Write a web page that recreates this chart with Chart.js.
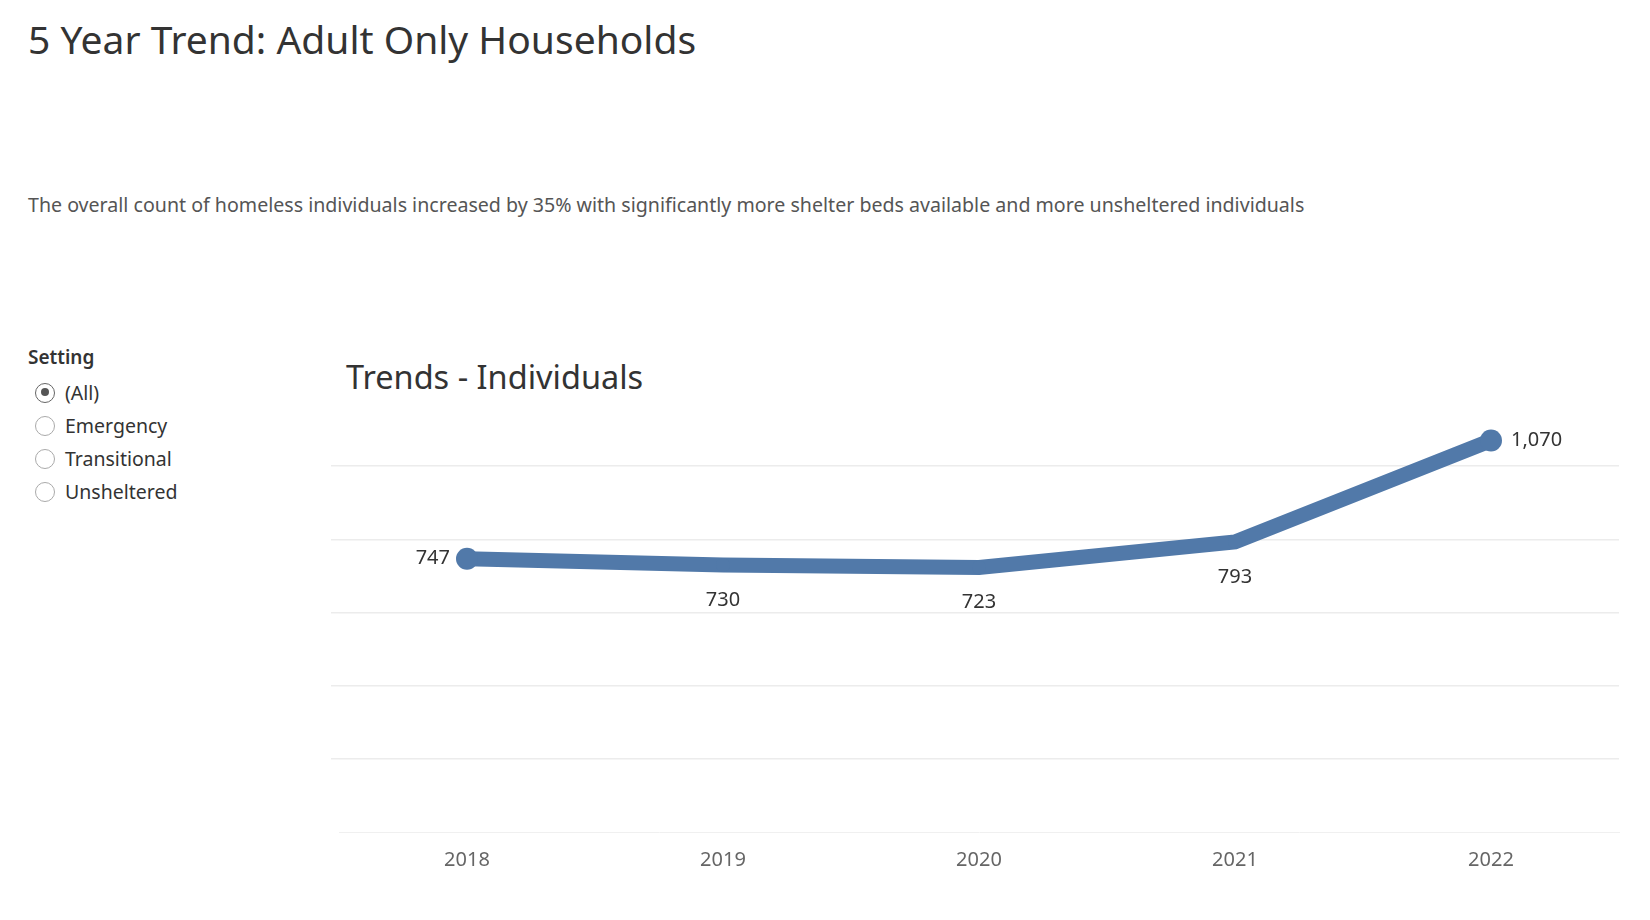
<!DOCTYPE html>
<html>
<head>
<meta charset="utf-8">
<script src="https://cdn.jsdelivr.net/npm/chart.js@4"></script>
<style>
  body { margin: 0; width: 1650px; height: 920px; background: #fff; font-family: "Noto Sans", Lato, sans-serif; position: relative; overflow: hidden; }
  h1 { position: absolute; left: 28px; top: 12px; margin: 0; font-weight: 400; font-size: 39px; color: #333; }
  .sub { position: absolute; left: 28px; top: 191px; font-size: 19.6px; color: #555; }
  .filter { position: absolute; left: 28px; top: 344px; font-size: 19.5px; color: #333; }
  .filter b { display: block; font-weight: 600; font-size: 19px; margin-bottom: 6px; }
  .opt { display: flex; align-items: center; height: 33px; }
  .radio { width: 20px; height: 20px; border: 1.5px solid #aaa; border-radius: 50%; margin: 0 10px 0 7px; box-sizing: border-box; position: relative; }
  .radio.on { border-color: #666; }
  .radio.on::after { content: ""; position: absolute; left: 4.5px; top: 4.5px; width: 8px; height: 8px; border-radius: 50%; background: #555; }
  .ct { position: absolute; left: 346px; top: 354px; font-size: 32.5px; color: #333; }
  canvas { position: absolute; left: 0; top: 0; }
</style>
</head>
<body>
<h1>5 Year Trend: Adult Only Households</h1>
<div class="sub">The overall count of homeless individuals increased by 35% with significantly more shelter beds available and more unsheltered individuals</div>
<div class="filter">
  <b>Setting</b>
  <div class="opt"><span class="radio on"></span>(All)</div>
  <div class="opt"><span class="radio"></span>Emergency</div>
  <div class="opt"><span class="radio"></span>Transitional</div>
  <div class="opt"><span class="radio"></span>Unsheltered</div>
</div>
<div class="ct">Trends - Individuals</div>
<canvas id="c" width="1650" height="920"></canvas>
<script>
const years = ['2018', '2019', '2020', '2021', '2022'];
const individuals = [747, 730, 723, 793, 1070];
const labelPos = ['left', 'below', 'below', 'below', 'right'];

const valueLabels = {
  id: 'valueLabels',
  afterDatasetsDraw(chart) {
    const ctx = chart.ctx;
    const meta = chart.getDatasetMeta(0);
    ctx.save();
    ctx.font = '20px "Noto Sans", Lato, sans-serif';
    ctx.fillStyle = '#333';
    ctx.textBaseline = 'middle';
    meta.data.forEach((pt, i) => {
      const txt = individuals[i].toLocaleString('en-US');
      const pos = labelPos[i];
      if (pos === 'left') { ctx.textAlign = 'right'; ctx.fillText(txt, pt.x - 17, pt.y); }
      else if (pos === 'right') { ctx.textAlign = 'left'; ctx.fillText(txt, pt.x + 20, pt.y); }
      else { ctx.textAlign = 'center'; ctx.fillText(txt, pt.x, pt.y + 35); }
    });
    ctx.restore();
  }
};

new Chart(document.getElementById('c'), {
  type: 'line',
  data: {
    labels: years,
    datasets: [{
      data: individuals,
      borderColor: '#5179a9',
      backgroundColor: '#5179a9',
      borderWidth: 15,
      pointRadius: [11, 7, 7, 7, 11],
      pointBorderWidth: 0,
      tension: 0
    }]
  },
  options: {
    responsive: false,
    animation: false,
    layout: { padding: { left: 331, right: 31, top: 393, bottom: 40 } },
    plugins: { legend: { display: false }, tooltip: { enabled: false } },
    scales: {
      x: {
        offset: true,
        grid: { display: false },
        border: { color: '#f0f0f0' },
        ticks: { color: '#666', padding: 8, font: { size: 20, family: '"Noto Sans", Lato, sans-serif' } }
      },
      y: {
        min: 0, max: 1200,
        ticks: { display: false, stepSize: 200 },
        border: { display: false },
        grid: { color: ctx => (ctx.tick.value === 0 || ctx.tick.value === 1200) ? 'rgba(0,0,0,0)' : '#ececec', lineWidth: 1.5 }
      }
    }
  },
  plugins: [valueLabels]
});
</script>
</body>
</html>
